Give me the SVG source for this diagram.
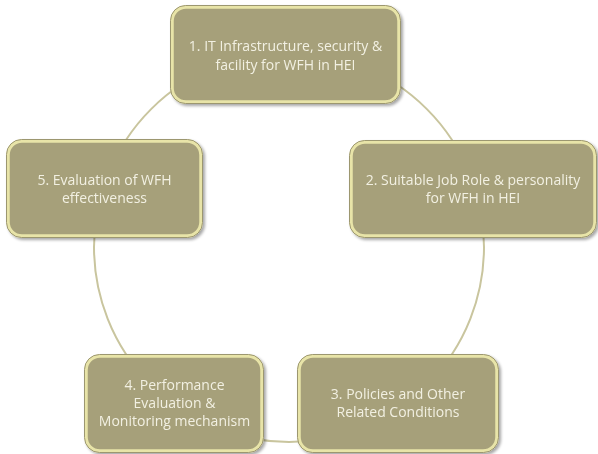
<svg xmlns="http://www.w3.org/2000/svg" width="598" height="454" viewBox="0 0 598 454">
<defs>
<style>
.ring{fill:none;stroke:#C9C59E;stroke-width:2}
.box{fill:#A6A07A;stroke:#E8E4A8;stroke-width:3.5}
.box-edge{fill:none;stroke:#9C9770;stroke-width:1}
.lbl{font-family:"Open Sans","Liberation Sans",Arial,sans-serif;font-size:14px;fill:#F2F0E2;text-anchor:middle}
</style>
<filter id="sh" x="-10%" y="-10%" width="125%" height="130%">
<feGaussianBlur in="SourceAlpha" stdDeviation="1.5"/>
<feOffset dx="1.5" dy="2" result="b"/>
<feComponentTransfer><feFuncA type="linear" slope="0.35"/></feComponentTransfer>
<feMerge><feMergeNode/><feMergeNode in="SourceGraphic"/></feMerge>
</filter>
</defs>
<rect width="598" height="454" fill="#FFFFFF"/>
<g id="connectors">
<circle class="ring" cx="289" cy="247" r="195"/>
</g>
<g id="node1" filter="url(#sh)">
<rect class="box" x="172" y="7" width="227" height="95" rx="14"/>
<rect class="box-edge" x="170.5" y="5.5" width="230" height="98" rx="15"/>
<text class="lbl" x="285.5" y="51">1. IT Infrastructure, security &amp;</text>
<text class="lbl" x="285.5" y="70">facility for WFH in HEI</text>
</g>
<g id="node2" filter="url(#sh)">
<rect class="box" x="351" y="142" width="244" height="94" rx="14"/>
<rect class="box-edge" x="349.5" y="140.5" width="247" height="97" rx="15"/>
<text class="lbl" x="473" y="185">2. Suitable Job Role &amp; personality</text>
<text class="lbl" x="473" y="203">for WFH in HEI</text>
</g>
<g id="node3" filter="url(#sh)">
<rect class="box" x="299" y="356" width="198" height="95" rx="14"/>
<rect class="box-edge" x="297.5" y="354.5" width="201" height="98" rx="15"/>
<text class="lbl" x="398" y="399">3. Policies and Other</text>
<text class="lbl" x="398" y="417">Related Conditions</text>
</g>
<g id="node4" filter="url(#sh)">
<rect class="box" x="86" y="356" width="176" height="95" rx="14"/>
<rect class="box-edge" x="84.5" y="354.5" width="179" height="98" rx="15"/>
<text class="lbl" x="174.5" y="390">4. Performance</text>
<text class="lbl" x="174.5" y="408">Evaluation &amp;</text>
<text class="lbl" x="174.5" y="426">Monitoring mechanism</text>
</g>
<g id="node5" filter="url(#sh)">
<rect class="box" x="8" y="141" width="193" height="95" rx="14"/>
<rect class="box-edge" x="6.5" y="139.5" width="196" height="98" rx="15"/>
<text class="lbl" x="104.5" y="185">5. Evaluation of WFH</text>
<text class="lbl" x="104.5" y="203">effectiveness</text>
</g>
</svg>
